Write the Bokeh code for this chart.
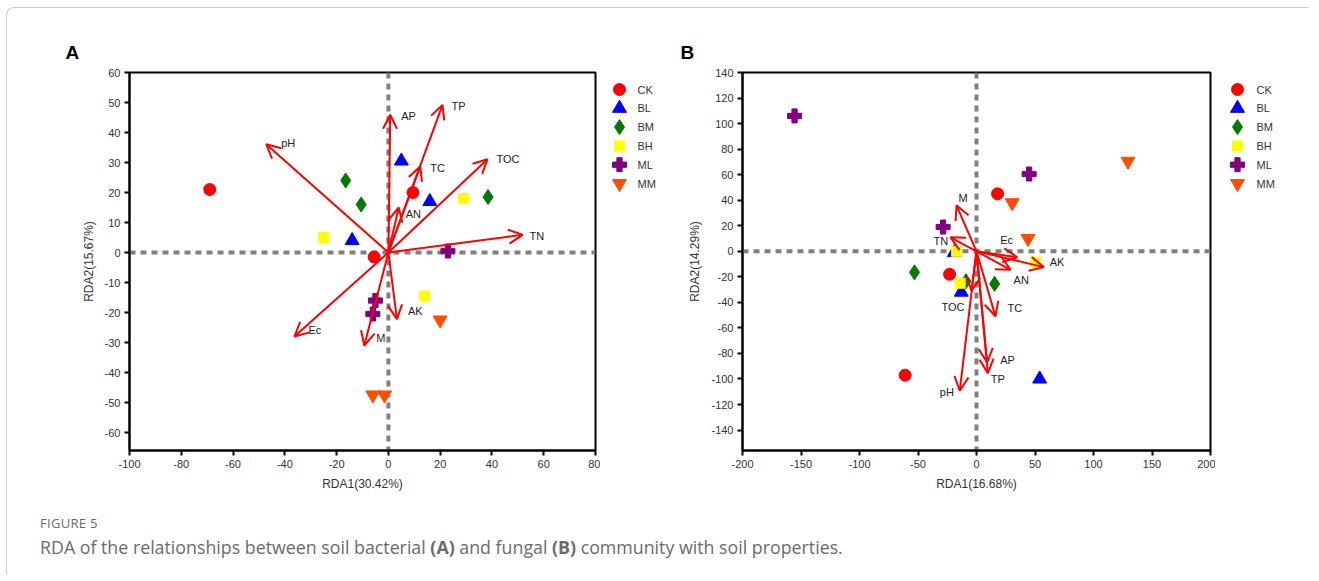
from bokeh.plotting import figure
from bokeh.models import (Range1d, FixedTicker, Span, Arrow, OpenHead,
                          ColumnDataSource, Div)
from bokeh.layouts import row, column
from bokeh.core.properties import value
from bokeh.embed import file_html
from bokeh.resources import INLINE

# ---------------- data ----------------
groups = ["CK", "BL", "BM", "BH", "ML", "MM"]

# Panel A (bacteria) sample scores
a_ck_x = [-69.0, 9.5, -5.5];   a_ck_y = [21.0, 20.0, -1.5]
a_bl_x = [5.0, 16.0, -14.0];   a_bl_y = [30.5, 17.0, 4.0]
a_bm_x = [-16.5, -10.5, 38.5]; a_bm_y = [24.0, 16.0, 18.5]
a_bh_x = [-25.0, 29.0, 14.0];  a_bh_y = [5.0, 18.0, -14.5]
a_ml_x = [23.0, -5.0, -6.0];   a_ml_y = [0.5, -16.0, -20.5]
a_mm_x = [20.0, -6.0, -1.5];   a_mm_y = [-22.5, -47.5, -47.5]

# Panel A environmental vectors
a_vars = ["pH", "AP", "TP", "TC", "TOC", "AN", "TN", "Ec", "M", "AK"]
a_rda1 = [-47.2, 0.7, 20.9, 12.3, 38.3, 4.0, 51.8, -36.3, -9.3, 3.3]
a_rda2 = [36.1, 45.9, 49.2, 28.7, 31.1, 15.0, 5.9, -28.0, -31.0, -22.2]

# Panel B (fungi) sample scores
b_ck_x = [18.0, -23.0, -61.0];   b_ck_y = [45.0, -18.0, -97.0]
b_bl_x = [-19.0, -13.0, 54.0];   b_bl_y = [-1.0, -32.0, -100.0]
b_bm_x = [-53.0, -9.0, 15.5];    b_bm_y = [-16.5, -23.5, -25.5]
b_bh_x = [-17.0, -14.0, 50.5];   b_bh_y = [0.0, -25.0, -8.5]
b_ml_x = [-155.5, -28.5, 45.0];  b_ml_y = [106.0, 19.0, 60.5]
b_mm_x = [129.5, 30.5, 44.0];    b_mm_y = [70.5, 38.0, 10.0]

# Panel B environmental vectors
b_vars = ["M", "TN", "Ec", "AK", "AN", "TC", "AP", "TP", "pH", "TOC"]
b_rda1 = [-17.1, -22.2, 34.8, 57.5, 29.1, 16.2, 9.1, 9.7, -14.3, -4.3]
b_rda2 = [36.0, 10.9, -4.7, -12.4, -14.5, -50.9, -87.1, -95.4, -109.2, -30.9]

# ---------------- styles ----------------
markers = ["circle", "triangle", "diamond", "square", "plus", "inverted_triangle"]
colors = ["#ff0000", "#0000ff", "#007a00", "#ffff00", "#800080", "#ff4d00"]
msizes = [12, 14, 15, 10, 14, 14]

# label offsets (pixels, canvas direction) relative to arrow tips
a_dx = [15, 11, 9, 10, 9, 7, 7, 14, 12, 11]
a_dy = [-1, 1, 1, 2, 0, 6, 1, -7, -8, -8]
b_dx = [2, -17, -17, 6, 3, 12, 13, 3, -20, -30]
b_dy = [-7, 4, -17, -5, 10, -8, -3, 6, 1, 16]

FONT = "Liberation Sans"
H = 486
BT, BB = 63, 45


def fmt_overrides(ticks):
    return {t: str(t) for t in ticks}


def make_panel(xr, yr, xt, yt, xlabel, ylabel, pts, vx, vy, names, dx, dy,
               mbl, frame_w, letter, letter_off):
    p = figure(width=mbl + frame_w + 5, height=H,
               x_range=Range1d(*xr), y_range=Range1d(*yr),
               output_backend="svg", toolbar_location=None,
               min_border_left=mbl, min_border_right=5,
               min_border_top=BT, min_border_bottom=BB)
    p.grid.visible = False
    p.background_fill_color = "white"
    p.border_fill_color = "white"
    p.outline_line_color = "black"
    p.outline_line_width = 2
    p.outline_line_alpha = 1
    p.xaxis.ticker = FixedTicker(ticks=xt)
    p.yaxis.ticker = FixedTicker(ticks=yt)
    p.xaxis.major_label_overrides = fmt_overrides(xt)
    p.yaxis.major_label_overrides = fmt_overrides(yt)
    for ax in (p.xaxis[0], p.yaxis[0]):
        ax.axis_line_color = "black"
        ax.axis_line_width = 2
        ax.major_tick_line_color = "black"
        ax.major_tick_line_width = 2
        ax.major_tick_out = 5
        ax.major_tick_in = 0
        ax.minor_tick_line_color = None
        ax.major_label_text_font = FONT
        ax.major_label_text_font_size = "11px"
        ax.major_label_text_color = "#333333"
        ax.major_label_standoff = 4
        ax.axis_label_text_font = FONT
        ax.axis_label_text_font_size = "12px"
        ax.axis_label_text_font_style = "normal"
        ax.axis_label_text_color = "#333333"
        ax.axis_label_standoff = 6
    p.xaxis.axis_label = xlabel
    p.yaxis.axis_label = ylabel

    p.title.text = letter
    p.title.align = "left"
    p.title.offset = letter_off
    p.title.text_font = FONT
    p.title.text_font_size = "19px"
    p.title.text_font_style = "bold"
    p.title.text_color = "black"
    p.title.standoff = 20

    for loc_dim in ("width", "height"):
        p.add_layout(Span(location=0, dimension=loc_dim, line_color="#808080",
                          line_width=4, line_dash="6 5", level="underlay"))

    for g, (xs, ys), mk, c, s in zip(groups, pts, markers, colors, msizes):
        p.scatter(xs, ys, marker=mk, size=s, fill_color=c, line_color=c,
                  line_width=1)

    src = ColumnDataSource(dict(x=vx, y=vy, t=names, dx=dx, dy=dy))
    p.add_layout(Arrow(end=OpenHead(size=14, line_color="red", line_width=2),
                       x_start=0, y_start=0, x_end="x", y_end="y",
                       source=src, line_color="red", line_width=2))
    p.text(x="x", y="y", text="t", x_offset="dx", y_offset="dy", source=src,
           text_font=value(FONT), text_font_size="11px", text_color="#222222",
           text_align="left", text_baseline="middle")
    return p


def make_legend(width, mx, tx):
    frame_h = H - BT - BB
    lg = figure(width=width, height=H, x_range=Range1d(0, width),
                y_range=Range1d(frame_h, 0), output_backend="svg",
                toolbar_location=None, x_axis_type=None, y_axis_type=None,
                min_border_left=0, min_border_right=0,
                min_border_top=BT, min_border_bottom=BB)
    lg.grid.visible = False
    lg.outline_line_color = None
    y0, step = 17, 18.8
    for i, (g, mk, c, s) in enumerate(zip(groups, markers, colors, msizes)):
        yy = y0 + i * step
        lg.scatter([mx], [yy], marker=mk, size=s, fill_color=c, line_color=c)
        lg.text([tx], [yy], text=[g], text_font=value(FONT),
                text_font_size="11px", text_color="#333333",
                text_baseline="middle", text_align="left")
    return lg


pA = make_panel((-100, 80), (-66, 60), list(range(-100, 81, 20)),
                list(range(-60, 61, 10)), "RDA1(30.42%)", "RDA2(15.67%)",
                [(a_ck_x, a_ck_y), (a_bl_x, a_bl_y), (a_bm_x, a_bm_y),
                 (a_bh_x, a_bh_y), (a_ml_x, a_ml_y), (a_mm_x, a_mm_y)],
                a_rda1, a_rda2, a_vars, a_dx, a_dy,
                120, 466, "A", -64)

pB = make_panel((-200, 200), (-156, 140), list(range(-200, 201, 50)),
                list(range(-140, 141, 20)), "RDA1(16.68%)", "RDA2(14.29%)",
                [(b_ck_x, b_ck_y), (b_bl_x, b_bl_y), (b_bm_x, b_bm_y),
                 (b_bh_x, b_bh_y), (b_ml_x, b_ml_y), (b_mm_x, b_mm_y)],
                b_rda1, b_rda2, b_vars, b_dx, b_dy,
                70, 468, "B", -62)

legA = make_legend(72, 19, 37)
legB = make_legend(75, 22, 41)

caption = Div(width=1290, height=70, text=(
    '<div style="font-family:\'Open Sans\',sans-serif;color:#6b6b6b;'
    'padding:14px 0 0 26px;">'
    '<div style="font-size:13px;line-height:18px;letter-spacing:0.3px;">FIGURE 5</div>'
    '<div style="font-size:17.8px;line-height:22px;margin-top:4px;white-space:nowrap;">'
    'RDA of the relationships between soil bacterial <b>(A)</b> and fungal '
    '<b>(B)</b> community with soil properties.</div></div>'))

layout = column(row(pA, legA, pB, legB), caption,
                styles={"margin-left": "6px", "margin-top": "7px",
                        "padding-left": "2px", "padding-top": "1px",
                        "border-left": "1px solid #cccccc",
                        "border-top": "1px solid #cccccc",
                        "border-top-left-radius": "8px"})

open("out.html", "w").write(file_html(layout, INLINE))
